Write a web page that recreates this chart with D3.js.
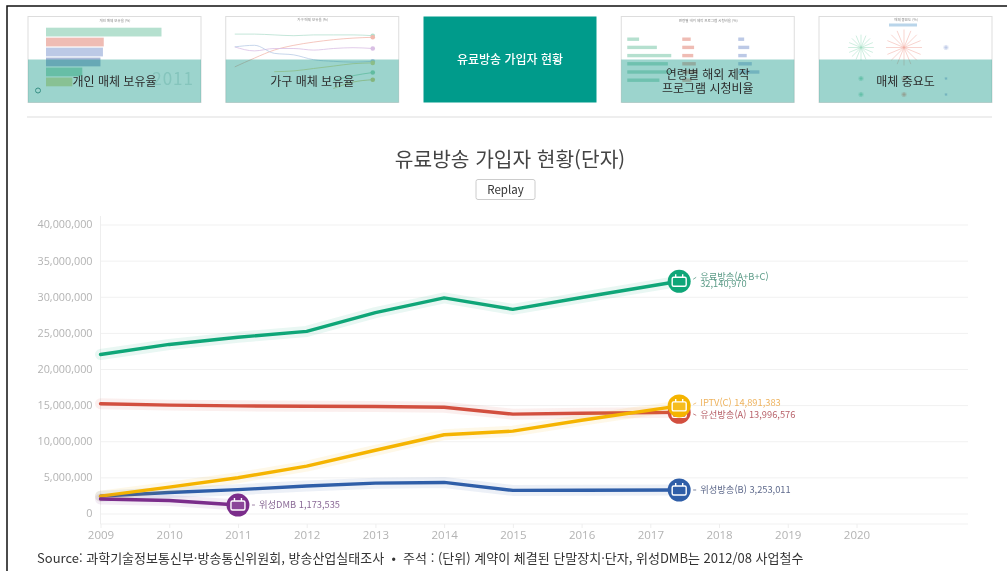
<!DOCTYPE html>
<html lang="ko"><head><meta charset="utf-8">
<script src="https://cdn.jsdelivr.net/npm/d3@7"></script>
<style>
html,body{margin:0;padding:0;background:#fff;overflow:hidden}
svg{display:block;font-family:"Noto Sans CJK KR","Noto Sans",sans-serif;filter:blur(.3px)}
.thumb{filter:blur(.6px)}
</style></head><body><svg id="c" width="1007" height="571"></svg>
<script>
const years=[2009,2010,2011,2012,2013,2014,2015,2016,2017.42];
const yearTicks=[2009,2010,2011,2012,2013,2014,2015,2016,2017,2018,2019,2020];
const valueTicks=[0,5e6,1e7,1.5e7,2e7,2.5e7,3e7,3.5e7,4e7];
const totalValues=[22000000,23400000,24400000,25200000,27800000,29850000,28250000,29900000,32140970];
const cableValues=[15200000,15000000,14900000,14850000,14800000,14700000,13750000,13880000,13996576];
const iptvValues=[2400000,3650000,4950000,6550000,8750000,10900000,11400000,12900000,14891383];
const satelliteValues=[2400000,2900000,3300000,3800000,4200000,4300000,3200000,3220000,3253011];
const dmbValues=[2000000,1800000,1173535];
const seriesNames=["유료방송(A+B+C)","유선방송(A)","IPTV(C)","위성방송(B)","위성DMB"];
const seriesColors=["#0fa678","#d24f3f","#f5b400","#2f5ea8","#7b2d8b"];
const labelColors=["#5d9c88","#b8626a","#eeb35e","#5f6a8c","#8a6a96"];
const tabNames=[["개인 매체 보유율"],["가구 매체 보유율"],["유료방송 가입자 현황"],["연령별 해외 제작","프로그램 시청비율"],["매체 중요도"]];
const thumbBars=[70,35,34.5,33,22,16];
const thumbBarColors=["#b5e0cf","#efbcb4","#bcc9e6","#a9b8d8","#a8dcc0","#dfe0a0"];
const thumbAgeBars=[[14,35,52,48,52,38],[10,14,13,16,18,11],[7,13,10,16,25,0]];
const thumbSpokes=[[10,2,2],[14,2,2],[2,1,1]];
const thumbLines=[[78,78,77,76,77,77,77,76],[37,48,58,64,68,71,73,74],[62,57,60,60,58,60,61,60],[62,64,54,52,46,44,43,44],[null,null,31,32,35,38,41,42],[null,null,null,null,null,20,26,30],[null,null,null,null,null,10,18,21]];
const thumbLineColors=["#b5e0cf","#f2b9ad","#d9bfe4","#b9cbe6","#e4d98e","#9fd8b6","#d8cd7c"];

const svg=d3.select("#c");
svg.append("rect").attr("x",7).attr("y",6).attr("width",1020).attr("height",600).attr("fill","#fff").attr("stroke","#111").attr("stroke-width",1.5);

const tabX=d3.scalePoint().domain(d3.range(5)).range([28,819]);
const tw=173,th=86,ty=16.5;
tabNames.forEach((lines,i)=>{
  const g=svg.append("g").attr("transform",`translate(${tabX(i)},${ty})`);
  const c=g.append("g").attr("class","thumb");
  c.append("rect").attr("width",tw).attr("height",th).attr("fill",i===2?"#009b8b":"#fff").attr("stroke",i===2?"none":"#ddd");
  if(i===0){
    const bx=d3.scaleLinear().domain([0,80]).range([18,150]);
    const by=d3.scaleBand().domain(d3.range(thumbBars.length)).range([10,71]).padding(.12);
    c.selectAll("rect.b").data(thumbBars).join("rect").attr("class","b").attr("x",bx(0)).attr("y",(d,j)=>by(j)).attr("width",d=>bx(d)-bx(0)).attr("height",by.bandwidth()).attr("fill",(d,j)=>thumbBarColors[j]);
    c.append("text").attr("x",166).attr("y",68).attr("text-anchor","end").attr("font-size",17).attr("fill","#d9e6e4").attr("letter-spacing",1).text("2011");
    c.append("text").attr("x",87).attr("y",5.5).attr("text-anchor","middle").attr("font-size",3.5).attr("fill","#888").text("개인 매체 보유율 (%)");
    c.append("circle").attr("cx",10).attr("cy",74).attr("r",2.5).attr("fill","none").attr("stroke","#5b8f8a");
  }
  if(i===1){
    const lx=d3.scaleLinear().domain([0,7]).range([9,147]);
    const ly=d3.scaleLinear().domain([0,100]).range([80,0]);
    const ln=d3.line().defined(d=>d!==null).x((d,j)=>lx(j)).y(d=>ly(d)).curve(d3.curveMonotoneX);
    thumbLines.forEach((s,j)=>{
      c.append("path").attr("d",ln(s)).attr("fill","none").attr("stroke",thumbLineColors[j]).attr("stroke-width",.8);
      c.append("circle").attr("cx",lx(7)).attr("cy",ly(s[7])).attr("r",2.3).attr("fill",thumbLineColors[j]);
    });
    c.append("text").attr("x",87).attr("y",4.5).attr("text-anchor","middle").attr("font-size",3.5).attr("fill","#888").text("가구 매체 보유율 (%)");
  }
  if(i===3){
    const ax=d3.scaleLinear().domain([0,52]).range([0,44]);
    thumbAgeBars.forEach((col,k)=>{
      c.selectAll(null).data(col).join("rect").attr("x",[6,61,117][k]).attr("y",(d,j)=>21+j*8.2).attr("width",d=>ax(d)).attr("height",3.4).attr("fill",thumbBarColors[k]);
    });
    c.append("text").attr("x",87).attr("y",5.5).attr("text-anchor","middle").attr("font-size",3.5).attr("fill","#888").text("연령별 해외 제작 프로그램 시청비율 (%)");
  }
  if(i===4){
    const rad=d3.scaleLinear().domain([0,14]).range([0,18]);
    thumbSpokes.forEach((row,k)=>{
      row.forEach((v,m)=>{
        const cy=[31,62,78][m];
        c.selectAll(null).data(d3.range(16)).join("line").attr("x1",[42,85,127][k]).attr("y1",cy)
          .attr("x2",a=>[42,85,127][k]+Math.cos(a/16*2*Math.PI)*rad(v)).attr("y2",a=>cy+Math.sin(a/16*2*Math.PI)*rad(v))
          .attr("stroke",["#9fdcc0","#f0a99f","#bcc9e6"][k]).attr("stroke-width",.5);
      });
    });
    c.append("rect").attr("x",70).attr("y",7).attr("width",28).attr("height",3).attr("fill","#b9d5ea");
    c.append("text").attr("x",87).attr("y",4.5).attr("text-anchor","middle").attr("font-size",3.5).attr("fill","#888").text("매체 중요도 (%)");
  }
  if(i!==2){
    c.append("rect").attr("y",43).attr("width",tw).attr("height",th-43).attr("fill","#00917f").attr("opacity",.39);
    g.selectAll(null).data(lines).join("text").attr("x",tw/2).attr("y",(d,j)=>lines.length>1?j*14+58:65.5).attr("dy",".35em")
      .attr("text-anchor","middle").attr("font-size",12).attr("fill","#2c2c2c").text(d=>d);
  }else{
    g.selectAll(null).data(lines).join("text").attr("x",tw/2).attr("y",43).attr("dy",".35em")
      .attr("text-anchor","middle").attr("font-size",12).attr("font-weight",500).attr("fill","#fff").text(d=>d);
  }
});
svg.append("line").attr("x1",27).attr("x2",992).attr("y1",117).attr("y2",117).attr("stroke","#ddd");

svg.append("text").attr("x",510).attr("y",160).attr("dy",".35em").attr("text-anchor","middle").attr("font-size",20.3).attr("fill","#444").text("유료방송 가입자 현황(단자)");
svg.append("rect").attr("x",476).attr("y",179.5).attr("width",59).attr("height",20).attr("rx",2).attr("fill","#fff").attr("stroke","#ccc");
svg.append("text").attr("x",505.5).attr("y",189.5).attr("dy",".35em").attr("text-anchor","middle").attr("font-size",11.5).attr("fill","#333").text("Replay");

const x=d3.scaleLinear().domain([2009,2020]).range([100.5,856.5]);
const y=d3.scaleLinear().domain([0,4e7]).range([513.5,224.5]);
const fmt=d3.format(",");
const gridRight=968;

const gy=svg.append("g").attr("transform","translate(100.5,0)").call(d3.axisLeft(y).tickValues(valueTicks).tickFormat(fmt).tickSize(0).tickPadding(8));
gy.select(".domain").remove();
gy.selectAll("text").attr("font-size",10.8).attr("font-family","'Open Sans',sans-serif").attr("fill","#b3b3b3");
gy.selectAll(".tick").append("line").attr("x2",gridRight-100.5).attr("stroke","#f1f1f1");
const gx=svg.append("g").attr("transform","translate(0,524)").call(d3.axisBottom(x).tickValues(yearTicks).tickFormat(d3.format("d")).tickSize(4).tickPadding(3));
gx.select(".domain").attr("stroke","#f1f1f1").attr("d",`M100.5,0H${gridRight}`);
gx.selectAll("line").attr("stroke","#eee");
gx.selectAll("text").attr("font-size",11.5).attr("font-family","'Open Sans',sans-serif").attr("fill","#b3b3b3");
svg.append("line").attr("x1",100.5).attr("x2",100.5).attr("y1",216).attr("y2",524).attr("stroke","#eee");

const allSeries=[totalValues,cableValues,iptvValues,satelliteValues,dmbValues];
const line=d3.line().x(d=>x(d[0])).y(d=>y(d[1]));
const order=[0,1,3,2,4];
order.forEach(i=>{
  const pts=allSeries[i].map((v,j)=>[years[j],v]);
  svg.append("path").attr("d",line(pts)).attr("fill","none").attr("stroke",seriesColors[i]).attr("stroke-width",11).attr("opacity",.09).attr("stroke-linecap","round").attr("stroke-linejoin","round");
  svg.append("path").attr("d",line(pts)).attr("fill","none").attr("stroke",seriesColors[i]).attr("stroke-width",3.4).attr("stroke-linecap","round").attr("stroke-linejoin","round");
});
const labelDy=[-4,3,-3,0,0];
order.forEach(i=>{
  const v=allSeries[i], yr=years[v.length-1], cx=x(yr), cy=y(v[v.length-1]);
  const g=svg.append("g").attr("transform",`translate(${cx},${cy})`);
  g.append("circle").attr("r",11.5).attr("fill",seriesColors[i]);
  g.append("rect").attr("x",-7).attr("y",-4).attr("width",14).attr("height",9).attr("rx",1.5).attr("fill",i===4||i===2?"rgba(255,255,255,.12)":"none").attr("stroke","#fff").attr("stroke-width",1.4);
  g.append("path").attr("d","M-3.5,-4V-7M3.5,-4V-7").attr("stroke","#fff").attr("stroke-width",1.4);
  const lx=cx+21, ly=cy+labelDy[i];
  svg.append("line").attr("x1",cx+14).attr("x2",cx+17).attr("y1",ly+(cy-ly)*.5).attr("y2",ly).attr("stroke",labelColors[i]).attr("stroke-width",.8);
  const t=svg.append("text").attr("font-size",9.3).attr("fill",labelColors[i]);
  if(i===0){
    t.append("tspan").attr("x",lx).attr("y",ly+3).text(seriesNames[i]);
    t.append("tspan").attr("x",lx).attr("y",ly+9.5).text(fmt(v[v.length-1]));
  }else{
    t.attr("x",lx).attr("y",ly+3).text(seriesNames[i]+" "+fmt(v[v.length-1]));
  }
});
svg.append("text").attr("x",37).attr("y",558).attr("dy",".35em").attr("font-size",13).attr("fill","#333").style("white-space","pre")
  .text("Source: 과학기술정보통신부·방송통신위원회, 방송산업실태조사  •  주석 : (단위) 계약이 체결된 단말장치·단자, 위성DMB는 2012/08 사업철수");
</script></body></html>
